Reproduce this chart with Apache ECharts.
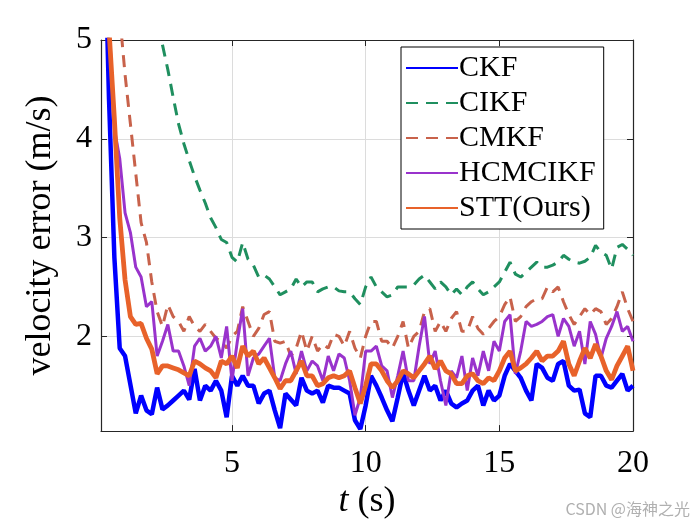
<!DOCTYPE html>
<html><head><meta charset="utf-8">
<script src="https://cdn.jsdelivr.net/npm/echarts@6/dist/echarts.min.js"></script>
<style>html,body{margin:0;padding:0;background:#fff}#c{width:700px;height:525px}</style>
</head><body><div id="c"></div><script>
const times = [0.2,0.4,0.6,0.8,1.0,1.2,1.4,1.6,1.8,2.0,
2.2,2.4,2.6,2.8,3.0,3.2,3.4,3.6,3.8,4.0,
4.2,4.4,4.6,4.8,5.0,5.2,5.4,5.6,5.8,6.0,
6.2,6.4,6.6,6.8,7.0,7.2,7.4,7.6,7.8,8.0,
8.2,8.4,8.6,8.8,9.0,9.2,9.4,9.6,9.8,10.0,
10.2,10.4,10.6,10.8,11.0,11.2,11.4,11.6,11.8,12.0,
12.2,12.4,12.6,12.8,13.0,13.2,13.4,13.6,13.8,14.0,
14.2,14.4,14.6,14.8,15.0,15.2,15.4,15.6,15.8,16.0,
16.2,16.4,16.6,16.8,17.0,17.2,17.4,17.6,17.8,18.0,
18.2,18.4,18.6,18.8,19.0,19.2,19.4,19.6,19.8,20.0];

const ckf = [6.5,4.4,2.8,1.88,1.8,1.51,1.22,1.40,1.25,1.21,
1.48,1.26,1.3,1.35,1.4,1.45,1.36,1.67,1.35,1.5,
1.45,1.55,1.45,1.18,1.6,1.5,1.6,1.5,1.5,1.32,
1.42,1.45,1.25,1.07,1.42,1.36,1.3,1.58,1.45,1.42,
1.45,1.33,1.5,1.48,1.48,1.45,1.42,1.15,1.06,1.3,
1.6,1.5,1.38,1.25,1.14,1.38,1.63,1.45,1.3,1.45,
1.6,1.45,1.5,1.35,1.45,1.32,1.28,1.32,1.35,1.45,
1.5,1.3,1.45,1.35,1.4,1.6,1.72,1.65,1.58,1.45,
1.35,1.72,1.68,1.58,1.55,1.72,1.75,1.5,1.45,1.46,
1.22,1.18,1.6,1.6,1.5,1.48,1.55,1.62,1.45,1.5];

const cikf = [null,null,null,null,null,null,null,null,null,5.55,
5.25,4.95,4.7,4.42,4.15,3.95,3.78,3.62,3.48,3.35,
3.2,3.1,2.98,2.95,2.8,2.75,2.95,2.78,2.72,2.6,
2.62,2.58,2.5,2.42,2.45,2.48,2.58,2.5,2.55,2.55,
2.45,2.48,2.5,2.5,2.46,2.45,2.45,2.38,2.32,2.5,
2.6,2.5,2.45,2.4,2.42,2.5,2.5,2.5,2.52,2.58,
2.62,2.55,2.48,2.55,2.5,2.42,2.48,2.42,2.5,2.55,
2.48,2.42,2.45,2.5,2.55,2.65,2.75,2.63,2.6,2.65,
2.7,2.75,2.7,2.7,2.72,2.75,2.82,2.78,2.75,2.74,
2.76,2.8,2.92,2.85,2.82,2.68,2.9,2.93,2.88,2.82];

const cmkf = [null,null,null,5.25,4.65,4.15,3.65,3.15,2.95,2.55,
2.25,2.1,2.32,2.2,2.15,2.05,2.2,2.1,2.05,2.12,
2.05,1.98,1.95,1.88,2.0,2.05,2.3,2.15,2.0,2.08,
2.22,2.25,1.95,1.93,1.95,1.8,1.88,2.05,1.85,2.0,
1.85,1.92,1.88,2.02,2.0,1.9,2.05,1.88,1.78,2.0,
2.15,2.15,1.95,1.95,1.88,2.0,2.15,1.88,2.0,2.05,
2.25,2.28,2.05,2.15,2.05,2.18,2.25,2.05,2.05,2.2,
2.08,2.02,2.08,2.15,2.2,2.32,2.4,2.15,2.2,2.3,
2.35,2.38,2.38,2.5,2.45,2.5,2.35,2.22,2.12,2.2,
2.28,2.22,2.28,2.25,2.12,2.18,2.3,2.45,2.28,2.15];

const hcmcikf = [6.5,5.2,4.1,3.8,3.25,3.05,2.7,2.6,2.3,2.35,
1.8,1.95,2.12,1.85,1.85,1.7,1.5,1.9,1.98,1.85,
1.9,2.0,1.78,2.1,1.55,1.95,2.28,1.6,1.78,1.82,
1.9,1.98,1.58,1.55,1.72,1.85,1.62,1.85,1.65,1.75,
1.7,1.55,1.8,1.65,1.82,1.78,1.55,1.2,1.38,1.85,
1.85,1.9,1.7,1.65,1.38,1.6,1.85,1.55,1.55,1.9,
2.2,1.72,1.85,1.55,1.3,1.65,1.58,1.8,1.45,1.78,
1.6,1.85,1.65,1.95,1.85,2.15,2.22,1.62,1.85,2.15,
2.1,2.12,2.15,2.2,2.22,2.0,2.18,2.1,1.9,2.05,
1.72,2.15,2.02,1.78,1.98,2.1,2.25,2.05,2.1,1.95];

const stt = [6.0,5.1,4.2,3.2,2.57,2.2,2.12,2.13,1.98,1.87,
1.62,1.7,1.7,1.68,1.66,1.63,1.6,1.75,1.72,1.68,
1.65,1.58,1.75,1.72,1.8,1.68,1.9,1.8,1.85,1.72,
1.78,1.68,1.58,1.47,1.55,1.55,1.65,1.75,1.6,1.6,
1.5,1.52,1.58,1.6,1.58,1.6,1.65,1.48,1.32,1.5,
1.72,1.72,1.65,1.55,1.48,1.55,1.65,1.62,1.58,1.65,
1.72,1.8,1.67,1.75,1.65,1.62,1.52,1.52,1.6,1.62,
1.55,1.52,1.58,1.55,1.65,1.78,1.85,1.65,1.68,1.72,
1.78,1.85,1.75,1.8,1.8,1.85,1.95,1.72,1.6,1.75,
1.88,1.78,1.92,1.8,1.65,1.56,1.7,1.8,1.9,1.65];

const seriesNames = ['CKF','CIKF','CMKF','HCMCIKF','STT(Ours)'];
const xTicks = [5,10,15,20];
const yTicks = [2,3,4,5];

function pairs(vals){
  const out=[];
  times.forEach((t,i)=>{ if(vals[i]!==null) out.push([t,vals[i]]); });
  return out;
}

const serif = '"Liberation Serif","Times New Roman",serif';
const chart = echarts.init(document.getElementById('c'));

function mkLine(name, vals, color, width, dash){
  return {
    name, type:'line', data:pairs(vals), symbol:'none', showSymbol:false,
    lineStyle:{color, width, type: dash ? [12,8] : 'solid'},
    itemStyle:{color}, clip:true, animation:false, z:2
  };
}

const xBase = {
  type:'value', min:0.1, max:20,
  splitLine:{show:true, lineStyle:{color:'#dcdcdc', width:1}},
  axisTick:{show:true, inside:true, length:6, customValues:xTicks, lineStyle:{color:'#262626'}},
  axisLine:{show:true, onZero:false, lineStyle:{color:'#262626', width:1.2}},
};
const yBase = {
  type:'value', min:1.04, max:5,
  splitLine:{show:true, lineStyle:{color:'#dcdcdc', width:1}},
  axisTick:{show:true, inside:true, length:6, customValues:yTicks, lineStyle:{color:'#262626'}},
  axisLine:{show:true, onZero:false, lineStyle:{color:'#262626', width:1.2}},
};

chart.setOption({
  backgroundColor:'#fff',
  animation:false,
  grid:{left:101, right:67, top:40, bottom:93, containLabel:false},
  xAxis:[
    Object.assign({}, xBase, {
      position:'bottom',
      axisLabel:{show:true, customValues:xTicks, margin:16, color:'#000', fontFamily:serif, fontSize:32},
      name:'{i|t} (s)', nameLocation:'middle', nameGap:49,
      nameTextStyle:{color:'#000', fontFamily:serif, fontSize:36,
        rich:{i:{fontStyle:'italic', fontFamily:serif, fontSize:36, color:'#000'}}}
    }),
    Object.assign({}, xBase, {position:'top', splitLine:{show:false}, axisLabel:{show:false}})
  ],
  yAxis:[
    Object.assign({}, yBase, {
      position:'left',
      axisLabel:{show:true, customValues:yTicks, margin:9, color:'#000', fontFamily:serif, fontSize:32},
      name:'velocity error (m/s)', nameLocation:'middle', nameGap:42,
      nameTextStyle:{color:'#000', fontFamily:serif, fontSize:36}
    }),
    Object.assign({}, yBase, {position:'right', splitLine:{show:false}, axisLabel:{show:false}})
  ],
  legend:{
    orient:'vertical', left:401, top:47,
    backgroundColor:'#fff', borderColor:'#000', borderWidth:1,
    padding:[6,8,6,4], itemGap:5, itemWidth:52, itemHeight:14,
    itemStyle:{opacity:0},
    textStyle:{color:'#000', fontFamily:serif, fontSize:30, padding:[0,0,0,-4]},
    data:seriesNames
  },
  series:[
    mkLine(seriesNames[0], ckf, '#0000ff', 4.5, false),
    mkLine(seriesNames[1], cikf, '#1f8f5f', 3, true),
    mkLine(seriesNames[2], cmkf, '#c8624b', 3, true),
    mkLine(seriesNames[3], hcmcikf, '#9933cc', 3, false),
    mkLine(seriesNames[4], stt, '#e8622a', 4.8, false)
  ],
  graphic:[{
    type:'text', right:10, bottom:8,
    style:{text:'CSDN @海神之光', fill:'#b0b0b0', font:'16px "Noto Sans CJK SC", "Noto Sans", sans-serif'}
  }]
});
</script></body></html>
